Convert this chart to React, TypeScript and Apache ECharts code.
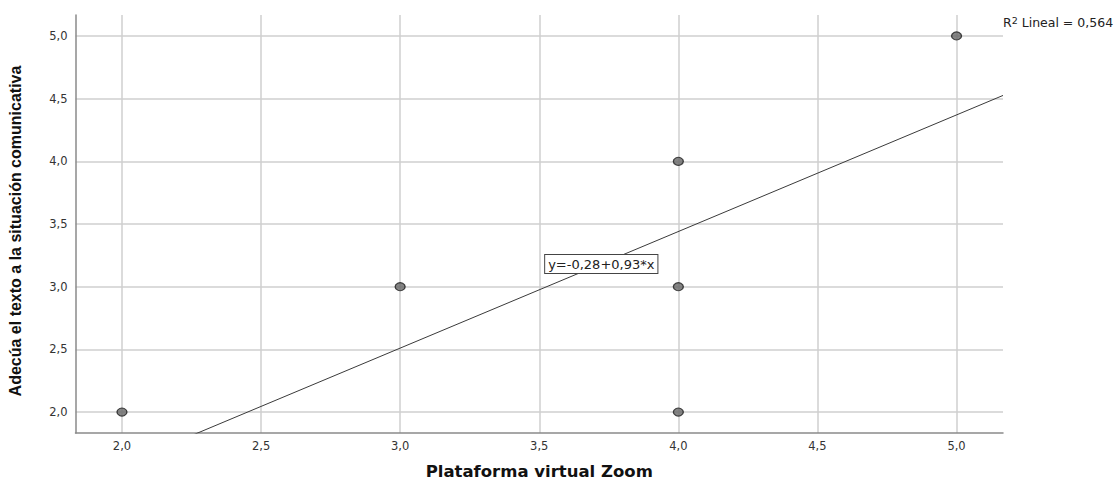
import React, { useEffect, useRef } from "react";
import * as echarts from "echarts";

const xTicks = [2.0, 2.5, 3.0, 3.5, 4.0, 4.5, 5.0];
const yTicks = [2.0, 2.5, 3.0, 3.5, 4.0, 4.5, 5.0];
const pointsX = [2, 3, 4, 4, 4, 5];
const pointsY = [2, 3, 4, 3, 2, 5];
const intercept = -0.28;
const slope = 0.93;
const rSquared = "0,564";
const axisMin = 1.833;
const axisMax = 5.167;
const xTitle = "Plataforma virtual Zoom";
const yTitle = "Adecúa el texto a la situación comunicativa";
const eqLabel = "y=-0,28+0,93*x";
const eqLabelAt = [3.723, 3.18];

const fmt = (v: number) => v.toFixed(1).replace(".", ",");

export default function App() {
  const ref = useRef<HTMLDivElement>(null);
  useEffect(() => {
    if (!ref.current) return;
    const chart = echarts.init(ref.current, null, { renderer: "svg", width: 1114, height: 482 });
    const font = "'Liberation Sans', Arial, sans-serif";
    const wide = "'DejaVu Sans', sans-serif";
    const gridColor = "#cfcfcf";
    const lineX = [axisMin, axisMax];
    chart.setOption({
      animation: false,
      backgroundColor: "#ffffff",
      grid: { left: 75.5, right: 111, top: 15, bottom: 49, containLabel: false, outerBoundsMode: "none" },
      xAxis: {
        type: "value",
        min: axisMin,
        max: axisMax,
        axisLine: { show: true, lineStyle: { color: "#8a8a8a", width: 1.5 } },
        axisTick: { show: false, customValues: xTicks },
        axisLabel: {
          customValues: xTicks,
          formatter: (v: number) => fmt(v),
          color: "#333",
          fontSize: 11.5,
          fontFamily: wide,
          margin: 7,
        },
        splitLine: { show: true, lineStyle: { color: gridColor, width: 1.5 } },
        name: xTitle,
        nameLocation: "middle",
        nameGap: 30,
        nameTextStyle: { fontSize: 16.5, fontWeight: "bold", color: "#111", fontFamily: wide },
      },
      yAxis: {
        type: "value",
        min: axisMin,
        max: axisMax,
        axisLine: { show: true, lineStyle: { color: "#8a8a8a", width: 1.5 } },
        axisTick: { show: false, customValues: yTicks },
        axisLabel: {
          customValues: yTicks,
          formatter: (v: number) => fmt(v),
          color: "#333",
          fontSize: 11.5,
          fontFamily: wide,
          margin: 8,
        },
        splitLine: { show: true, lineStyle: { color: gridColor, width: 1.5 } },
        name: yTitle,
        nameLocation: "middle",
        nameGap: 52,
        nameTextStyle: {
          fontSize: 16,
          fontWeight: "bold",
          color: "#111",
          fontFamily: font,
          padding: [0, 14, 0, 0],
        },
      },
      series: [
        {
          type: "line",
          data: lineX.map((x) => [x, intercept + slope * x]),
          symbol: "none",
          clip: true,
          lineStyle: { color: "#3a3a3a", width: 1 },
          silent: true,
          z: 3,
          markPoint: {
            symbol: "rect",
            symbolSize: 0,
            data: [{ coord: eqLabelAt }],
            label: {
              show: true,
              position: "inside",
              formatter: eqLabel,
              color: "#222",
              fontSize: 13,
              fontFamily: wide,
              backgroundColor: "#ffffff",
              borderColor: "#444",
              borderWidth: 1,
              padding: [3, 3, 2, 3],
            },
          },
        },
        {
          type: "scatter",
          data: pointsX.map((x, i) => [x, pointsY[i]]),
          symbol: "circle",
          symbolSize: [10, 8],
          itemStyle: { color: "#666666", borderColor: "#1e1e1e", borderWidth: 1.2 },
          z: 4,
        },
      ],
      graphic: [
        {
          type: "text",
          left: 1003,
          top: 15,
          style: {
            rich: {
              sup: { fontSize: 9.5, verticalAlign: "top", fontFamily: wide, fill: "#222", padding: [0, 0, 5, 0] },
              n: { fontSize: 12.5, fontFamily: wide, fill: "#222" },
            },
            text: "{n|R}{sup|2}{n| Lineal = " + rSquared + "}",
          },
        },
      ],
    });
    return () => chart.dispose();
  }, []);
  return (
    <div
      ref={ref}
      style={{ position: "fixed", left: 0, top: 0, width: 1114, height: 482, background: "#fff" }}
    />
  );
}
